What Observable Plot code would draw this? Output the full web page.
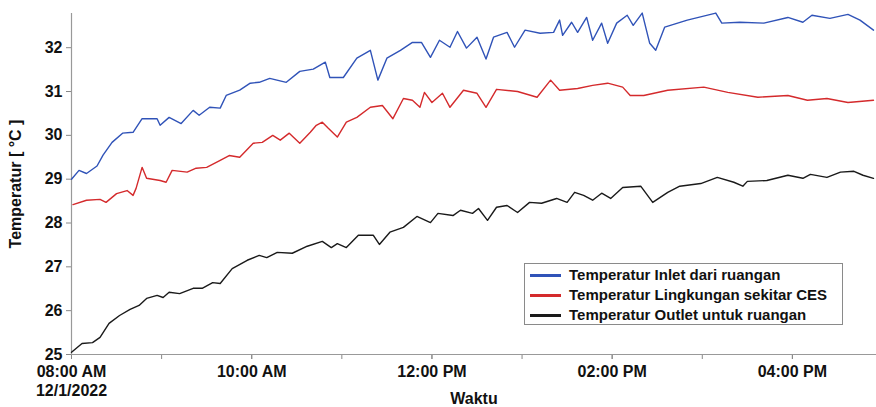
<!DOCTYPE html>
<html>
<head>
<meta charset="utf-8">
<script src="https://cdn.jsdelivr.net/npm/d3@7"></script>
<script src="https://cdn.jsdelivr.net/npm/@observablehq/plot@0.6"></script>
<style>
  html, body { margin: 0; padding: 0; background: #fff; }
  #wrap { position: relative; width: 876px; height: 407px; font-family: "Liberation Sans", Arial, sans-serif; }
  #legend { position: absolute; left: 524px; top: 263px; width: 317px; height: 60px;
    border: 1px solid #8a8a8a; background: #fff; font-weight: bold; font-size: 15px; color: #111; }
  .row { position: absolute; left: 5px; height: 20px; line-height: 20px; display: flex; align-items: center; white-space: nowrap; }
  .sw { width: 31px; height: 3px; margin-right: 8px; flex: none; }
</style>
</head>
<body>
<div id="wrap"></div>
<script>
// ---- data (minutes after 08:00, 12/1/2022) ----
const inletMin = [0,5,10,17,21,27,34,41,47,57,59,65,73,81,85,92,99,103,112,119,125,132,143,152,161,169,172,181,190,199,204,210,219,227,233,239,245,252,257,263,270,276,281,290,295,302,312,321,325,327,333,337,343,347,353,357,363,370,374,380,385,389,395,410,429,433,445,461,477,487,493,505,517,525,534];
const inletVal = [29.0,29.2,29.13,29.3,29.55,29.84,30.05,30.07,30.38,30.38,30.23,30.41,30.27,30.57,30.46,30.64,30.62,30.91,31.03,31.19,31.21,31.3,31.21,31.46,31.51,31.67,31.32,31.32,31.76,31.94,31.26,31.76,31.94,32.12,32.12,31.78,32.17,32.01,32.37,31.99,32.24,31.74,32.24,32.35,32.01,32.4,32.33,32.35,32.63,32.28,32.58,32.35,32.69,32.17,32.56,32.1,32.56,32.74,32.51,32.79,32.1,31.94,32.47,32.63,32.79,32.56,32.58,32.56,32.69,32.58,32.74,32.67,32.76,32.63,32.4];

const ambMin = [1,10,19,23,30,37,41,43,47,50,59,63,67,77,83,90,99,105,112,121,127,134,139,145,152,159,163,167,171,177,183,190,199,207,214,221,227,232,235,240,247,252,261,270,276,283,297,310,319,325,337,347,357,367,372,381,397,421,437,457,477,490,503,517,534];
const ambVal = [28.42,28.52,28.54,28.47,28.67,28.74,28.63,28.79,29.27,29.02,28.97,28.93,29.2,29.16,29.25,29.27,29.43,29.54,29.5,29.82,29.84,30.0,29.89,30.05,29.82,30.07,30.23,30.3,30.16,29.96,30.3,30.41,30.64,30.68,30.38,30.84,30.8,30.64,30.98,30.75,30.96,30.64,31.03,30.96,30.64,31.05,31.0,30.87,31.26,31.03,31.07,31.14,31.19,31.1,30.91,30.91,31.03,31.1,30.98,30.87,30.91,30.8,30.84,30.75,30.8];

const outletMin = [0,7,14,19,25,32,39,45,50,57,61,65,72,81,87,94,99,107,117,125,130,137,147,157,167,173,177,183,191,201,205,212,221,230,239,244,254,259,267,271,277,283,290,297,305,313,323,330,335,341,347,353,359,367,379,387,397,405,419,430,441,447,450,463,477,487,492,503,512,521,527,534];
const outletVal = [25.05,25.25,25.27,25.39,25.71,25.89,26.03,26.12,26.28,26.35,26.3,26.42,26.39,26.51,26.51,26.64,26.62,26.96,27.15,27.26,27.21,27.33,27.31,27.47,27.58,27.44,27.53,27.44,27.72,27.72,27.51,27.79,27.9,28.15,28.01,28.22,28.17,28.29,28.22,28.33,28.06,28.36,28.4,28.24,28.47,28.45,28.56,28.47,28.7,28.63,28.52,28.68,28.56,28.81,28.84,28.47,28.7,28.84,28.9,29.04,28.93,28.84,28.95,28.97,29.09,29.02,29.11,29.04,29.16,29.18,29.09,29.02];

const seriesNames = ["Temperatur Inlet dari ruangan", "Temperatur Lingkungan sekitar CES", "Temperatur Outlet untuk ruangan"];
const seriesColors = ["#3053b8", "#d42a2c", "#1a1a1a"];

const tickHours = [8, 10, 12, 14, 16];
const tickLabels = ["08:00 AM\n12/1/2022", "10:00 AM", "12:00 PM", "02:00 PM", "04:00 PM"];
const minorHours = [8, 9, 10, 11, 12, 13, 14, 15, 16];
const yTicks = [25, 26, 27, 28, 29, 30, 31, 32];
const yDomain = [25, 32.78];
const endMinute = 536;

// ---- build ----
const t0 = new Date(2022, 11, 1, 8, 0);
const at = (m) => new Date(t0.getTime() + m * 60000);
const hourDate = (h) => new Date(2022, 11, 1, h, 0);

const rows = [];
[[inletMin, inletVal], [ambMin, ambVal], [outletMin, outletVal]].forEach(([ms, vs], i) => {
  ms.forEach((m, j) => rows.push({t: at(m), v: vs[j], s: seriesNames[i]}));
});

const labelMap = new Map(tickHours.map((h, i) => [+hourDate(h), tickLabels[i]]));
const font = "Liberation Sans, Arial, sans-serif";

const chart = Plot.plot({
  width: 876,
  height: 407,
  marginLeft: 71,
  marginRight: 0,
  marginTop: 13,
  marginBottom: 53,
  style: {fontFamily: font, fontSize: "16px", fontWeight: "bold", color: "#111", background: "#fff"},
  x: {type: "time", domain: [t0, at(endMinute)]},
  y: {domain: yDomain},
  color: {domain: seriesNames, range: seriesColors},
  marks: [
    Plot.axisY({ticks: yTicks, tickSize: 5, tickPadding: 4, stroke: "#888", fontSize: 16, fontWeight: "bold",
      label: "Temperatur [ °C ]", labelAnchor: "center", labelOffset: 62, labelArrow: "none"}),
    Plot.axisX({ticks: minorHours.map(hourDate), tickSize: 5, text: null, label: null, stroke: "#888"}),
    Plot.axisX({ticks: tickHours.map(hourDate), tickSize: 5, tickPadding: 4, stroke: "#888", fontSize: 16, fontWeight: "bold",
      tickFormat: (d) => labelMap.get(+d), label: null, lineHeight: 1.2}),
    Plot.ruleY([yDomain[0]], {stroke: "#999", strokeWidth: 1.2}),
    Plot.ruleX([t0], {stroke: "#999", strokeWidth: 1.2}),
    Plot.lineY(rows, {x: "t", y: "v", z: "s", stroke: "s", strokeWidth: 1.4}),
    Plot.text(["Waktu"], {frameAnchor: "bottom", dx: 0, dy: 49, fontSize: 16, fontWeight: "bold", fill: "#111"})
  ]
});

const wrap = document.getElementById("wrap");
wrap.appendChild(chart);

const legend = document.createElement("div");
legend.id = "legend";
seriesNames.forEach((name, i) => {
  const r = document.createElement("div");
  r.className = "row";
  r.style.top = (1 + i * 20) + "px";
  const sw = document.createElement("div");
  sw.className = "sw";
  sw.style.background = seriesColors[i];
  const tx = document.createElement("span");
  tx.textContent = name;
  r.appendChild(sw); r.appendChild(tx);
  legend.appendChild(r);
});
wrap.appendChild(legend);
</script>
</body>
</html>
